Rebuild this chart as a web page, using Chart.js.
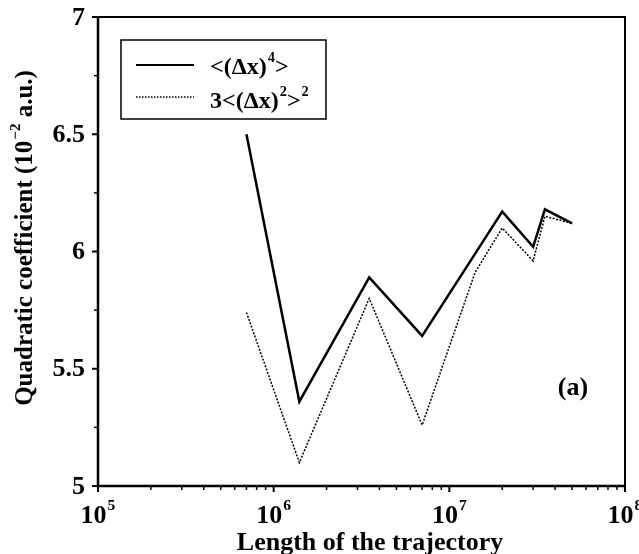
<!DOCTYPE html>
<html>
<head>
<meta charset="utf-8">
<script src="https://cdn.jsdelivr.net/npm/chart.js@4"></script>
<style>
  body { margin: 0; background: #fff; }
  #wrap { width: 639px; height: 554px; }
</style>
</head>
<body>
<div id="wrap"><canvas id="chart" width="639" height="554"></canvas></div>
<script>
// trajectory lengths and the two estimates of the quadratic coefficient
const trajectoryLength = [7e5, 1.4e6, 3.5e6, 7e6, 1.4e7, 2e7, 3e7, 3.5e7, 5e7];
const fourthMoment = [6.50, 5.36, 5.89, 5.64, 5.99, 6.17, 6.02, 6.18, 6.12];
const squaredSecond = [5.74, 5.10, 5.80, 5.26, 5.91, 6.10, 5.96, 6.15, 6.12];

const yTicks = [5, 5.5, 6, 6.5, 7];
const yTickLabels = ['5', '5.5', '6', '6.5', '7'];
const yMinorTicks = [5.25, 5.75, 6.25, 6.75];
const xExponents = [5, 6, 7, 8];

const FONT = '"Liberation Serif", "Times New Roman", serif';

// draw a string made of normal / superscript pieces
function richWidth(ctx, parts, size) {
    let w = 0;
    parts.forEach(p => {
        ctx.font = 'bold ' + (p.sup ? size * 0.6 : size) + 'px ' + FONT;
        w += ctx.measureText(p.t).width + (p.sup ? 1 : 0);
    });
    return w;
}
function richText(ctx, parts, x, y, size, align) {
    const w = richWidth(ctx, parts, size);
    if (align === 'center') x -= w / 2;
    else if (align === 'right') x -= w;
    ctx.textAlign = 'left';
    ctx.textBaseline = 'alphabetic';
    parts.forEach(p => {
        ctx.font = 'bold ' + (p.sup ? size * 0.6 : size) + 'px ' + FONT;
        ctx.fillText(p.t, x + (p.sup ? 1 : 0), p.sup ? y - size * 0.5 : y);
        x += ctx.measureText(p.t).width + (p.sup ? 1 : 0);
    });
}

const framePlugin = {
    id: 'frame',
    afterDraw(chart) {
        const ctx = chart.ctx;
        const a = chart.chartArea;
        const xs = chart.scales.x, ys = chart.scales.y;
        ctx.save();
        ctx.fillStyle = '#000';
        ctx.strokeStyle = '#000';

        // frame
        ctx.lineWidth = 2;
        ctx.strokeRect(a.left, a.top, a.right - a.left, a.bottom - a.top);
        ctx.lineWidth = 2.5;
        ctx.beginPath();
        ctx.moveTo(a.left, a.top); ctx.lineTo(a.left, a.bottom); ctx.lineTo(a.right, a.bottom);
        ctx.stroke();

        // y ticks
        ctx.lineWidth = 2;
        yTicks.forEach((v, i) => {
            const y = ys.getPixelForValue(v);
            ctx.beginPath(); ctx.moveTo(a.left - 6, y); ctx.lineTo(a.left, y); ctx.stroke();
            ctx.font = 'bold 26px ' + FONT;
            ctx.textAlign = 'right';
            ctx.textBaseline = 'middle';
            ctx.fillText(yTickLabels[i], a.left - 13, y + 1);
        });
        ctx.lineWidth = 1.5;
        yMinorTicks.forEach(v => {
            const y = ys.getPixelForValue(v);
            ctx.beginPath(); ctx.moveTo(a.left - 4, y); ctx.lineTo(a.left, y); ctx.stroke();
        });

        // x ticks
        xExponents.forEach(e => {
            const x = xs.getPixelForValue(Math.pow(10, e));
            ctx.lineWidth = 2;
            ctx.beginPath(); ctx.moveTo(x, a.bottom); ctx.lineTo(x, a.bottom + 6); ctx.stroke();
            richText(ctx, [{ t: '10' }, { t: String(e), sup: true }], x, a.bottom + 37, 26, 'center');
            if (e < 8) {
                ctx.lineWidth = 1.5;
                for (let m = 2; m <= 9; m++) {
                    const xm = xs.getPixelForValue(m * Math.pow(10, e));
                    ctx.beginPath(); ctx.moveTo(xm, a.bottom); ctx.lineTo(xm, a.bottom + 4); ctx.stroke();
                }
            }
        });

        // axis titles
        ctx.font = 'bold 26px ' + FONT;
        ctx.textAlign = 'center';
        ctx.textBaseline = 'alphabetic';
        ctx.fillText('Length of the trajectory', 370, 550);

        ctx.save();
        ctx.translate(32, 238);
        ctx.rotate(-Math.PI / 2);
        richText(ctx, [{ t: 'Quadratic coefficient (10' }, { t: '\u22122', sup: true }, { t: ' a.u.)' }], 0, 0, 25, 'center');
        ctx.restore();

        // legend
        ctx.lineWidth = 1.5;
        ctx.strokeRect(121, 40, 205, 79);
        ctx.lineWidth = 2;
        ctx.beginPath(); ctx.moveTo(136, 65); ctx.lineTo(194, 65); ctx.stroke();
        ctx.lineWidth = 1.5;
        ctx.setLineDash([1.5, 1.5]);
        ctx.beginPath(); ctx.moveTo(136, 97); ctx.lineTo(194, 97); ctx.stroke();
        ctx.setLineDash([]);
        richText(ctx, [{ t: '<(\u0394x)' }, { t: '4', sup: true }, { t: '>' }], 210, 74, 24, 'left');
        richText(ctx, [{ t: '3<(\u0394x)' }, { t: '2', sup: true }, { t: '>' }, { t: '2', sup: true }], 210, 108, 24, 'left');

        // panel label
        ctx.font = 'bold 26px ' + FONT;
        ctx.textAlign = 'center';
        ctx.textBaseline = 'middle';
        ctx.fillText('(a)', 573, 388);
        ctx.restore();
    }
};

new Chart(document.getElementById('chart'), {
    type: 'line',
    data: {
        datasets: [
            {
                label: '<(\u0394x)^4>',
                data: trajectoryLength.map((x, i) => ({ x: x, y: fourthMoment[i] })),
                borderColor: '#000',
                borderWidth: 2.5,
                pointRadius: 0,
                tension: 0
            },
            {
                label: '3<(\u0394x)^2>^2',
                data: trajectoryLength.map((x, i) => ({ x: x, y: squaredSecond[i] })),
                borderColor: '#000',
                borderWidth: 1.5,
                borderDash: [2, 1.5],
                pointRadius: 0,
                tension: 0
            }
        ]
    },
    options: {
        responsive: false,
        animation: false,
        layout: { padding: { left: 98, top: 17, right: 14, bottom: 68 } },
        plugins: { legend: { display: false }, tooltip: { enabled: false } },
        scales: {
            x: { type: 'logarithmic', min: 1e5, max: 1e8, display: false },
            y: { type: 'linear', min: 5, max: 7, display: false }
        }
    },
    plugins: [framePlugin]
});
</script>
</body>
</html>
